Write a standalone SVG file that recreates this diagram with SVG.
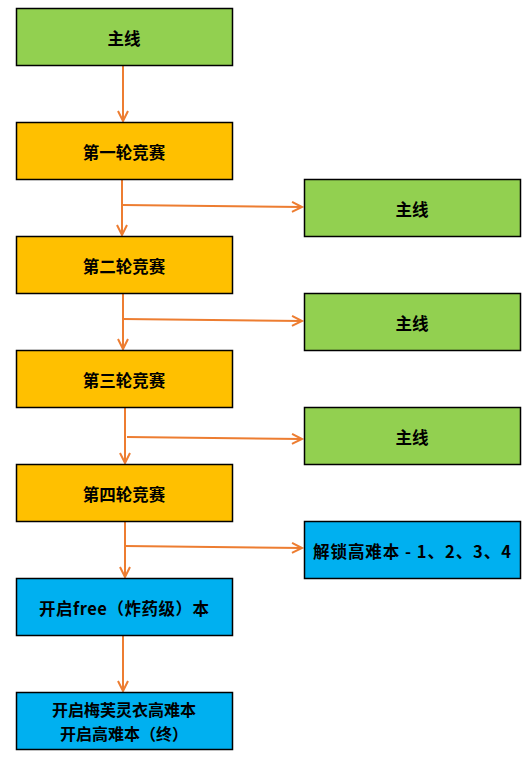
<svg xmlns="http://www.w3.org/2000/svg" width="531" height="765" viewBox="0 0 531 765">
<style>
.box{stroke:#000;stroke-width:1.5}
.g{fill:#92D050}
.o{fill:#FFC000}
.b{fill:#00B0F0}
.t{font-family:"Noto Sans CJK SC","Noto Sans",sans-serif;font-size:16.5px;font-weight:bold;fill:#000;text-anchor:middle;dominant-baseline:central}
.c{stroke:#ED7D31;stroke-width:2;fill:none}
</style>
<defs>
<marker id="ah" markerUnits="userSpaceOnUse" markerWidth="14" markerHeight="14" refX="11" refY="6" orient="auto">
<path d="M1,1 L11,6 L1,11" fill="none" stroke="#ED7D31" stroke-width="2"/>
</marker>
</defs>
<rect width="531" height="765" fill="#fff"/>
<g id="connectors">
<line class="c" x1="123" y1="65" x2="123" y2="121" marker-end="url(#ah)"/>
<line class="c" x1="122" y1="179" x2="122" y2="235" marker-end="url(#ah)"/>
<line class="c" x1="123" y1="205" x2="302" y2="207" marker-end="url(#ah)"/>
<line class="c" x1="123" y1="293" x2="123" y2="349" marker-end="url(#ah)"/>
<line class="c" x1="123" y1="319" x2="302" y2="321" marker-end="url(#ah)"/>
<line class="c" x1="125" y1="407" x2="125" y2="463" marker-end="url(#ah)"/>
<line class="c" x1="127" y1="437" x2="302" y2="439" marker-end="url(#ah)"/>
<line class="c" x1="125" y1="521" x2="125" y2="577" marker-end="url(#ah)"/>
<line class="c" x1="125" y1="546" x2="302" y2="548" marker-end="url(#ah)"/>
<line class="c" x1="123" y1="635" x2="123" y2="691" marker-end="url(#ah)"/>
</g>
<g id="n1"><rect class="box g" x="16.5" y="8.5" width="216" height="57"/><text class="t" x="124" y="37.5">主线</text></g>
<g id="n2"><rect class="box o" x="16.5" y="122.5" width="216" height="57"/><text class="t" x="124" y="151.5">第一轮竞赛</text></g>
<g id="n3"><rect class="box o" x="16.5" y="236.5" width="216" height="57"/><text class="t" x="124" y="265.5">第二轮竞赛</text></g>
<g id="n4"><rect class="box o" x="16.5" y="350.5" width="216" height="57"/><text class="t" x="124" y="379.5">第三轮竞赛</text></g>
<g id="n5"><rect class="box o" x="16.5" y="464.5" width="216" height="57"/><text class="t" x="124" y="493.5">第四轮竞赛</text></g>
<g id="n6"><rect class="box b" x="16.5" y="578.5" width="216" height="57"/><text class="t" x="124" y="607.5" textLength="170" lengthAdjust="spacing">开启free（炸药级）本</text></g>
<g id="n7"><rect class="box b" x="16.5" y="692.5" width="216" height="57"/><text class="t" style="font-size:16px"><tspan x="124" y="709">开启梅芙灵衣高难本</tspan><tspan x="124" y="732.5">开启高难本（终）</tspan></text></g>
<g id="r1"><rect class="box g" x="304.5" y="179.5" width="216" height="57"/><text class="t" x="412" y="208.5">主线</text></g>
<g id="r2"><rect class="box g" x="304.5" y="293.5" width="216" height="57"/><text class="t" x="412" y="322.5">主线</text></g>
<g id="r3"><rect class="box g" x="304.5" y="407.5" width="216" height="57"/><text class="t" x="412" y="436.5">主线</text></g>
<g id="r4"><rect class="box b" x="304.5" y="521.5" width="216" height="57"/><text class="t" x="412" y="550.5" textLength="198" lengthAdjust="spacing">解锁高难本 - 1、2、3、4</text></g>
</svg>
